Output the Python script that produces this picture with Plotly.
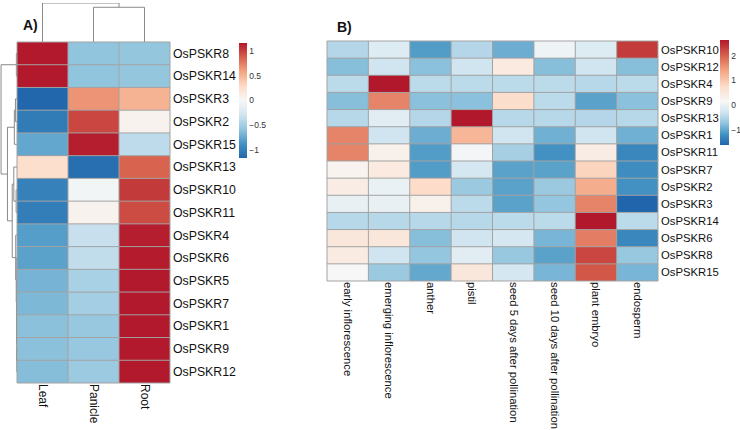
import plotly.graph_objects as go

# ---------------- Panel A data ----------------
genes_A = ["OsPSKR8", "OsPSKR14", "OsPSKR3", "OsPSKR2", "OsPSKR15", "OsPSKR13", "OsPSKR10",
           "OsPSKR11", "OsPSKR4", "OsPSKR6", "OsPSKR5", "OsPSKR7", "OsPSKR1", "OsPSKR9", "OsPSKR12"]
tissues_A = ["Leaf", "Panicle", "Root"]
leaf_A = [1.15, 1.15, -1.15, -1.02, -0.75, 0.25, -0.98, -1.0, -0.8, -0.78, -0.68, -0.65, -0.6, -0.6, -0.62]
panicle_A = [-0.58, -0.58, 0.65, 0.97, 1.13, -1.1, -0.04, 0.05, -0.33, -0.36, -0.47, -0.5, -0.55, -0.55, -0.53]
root_A = [-0.57, -0.57, 0.5, 0.05, -0.38, 0.85, 1.02, 0.95, 1.13, 1.14, 1.15, 1.15, 1.15, 1.15, 1.15]
ticks_A = [-1, -0.5, 0, 0.5, 1]

# dendrograms for panel A (left, right, merge height)
col_tree_A = ("Leaf", ("Panicle", "Root", 0.89), 1.0)
row_tree_A = (("OsPSKR8", "OsPSKR14", 0.6),
              ((("OsPSKR3", "OsPSKR2", 1.5), "OsPSKR15", 2.5),
               (("OsPSKR13", ("OsPSKR10", "OsPSKR11", 0.8), 3.0),
                ("OsPSKR4", ("OsPSKR6", ("OsPSKR5", ("OsPSKR7", ("OsPSKR1", ("OsPSKR9", "OsPSKR12", 0.2), 0.3), 0.4), 0.5), 0.7), 1.2),
                4.5),
               9.0),
              15.0)

# ---------------- Panel B data ----------------
genes_B = ["OsPSKR10", "OsPSKR12", "OsPSKR4", "OsPSKR9", "OsPSKR13", "OsPSKR1", "OsPSKR11",
           "OsPSKR7", "OsPSKR2", "OsPSKR3", "OsPSKR14", "OsPSKR6", "OsPSKR8", "OsPSKR15"]
tissues_B = ["early inflorescence", "emerging inflorescence", "anther", "pistil",
             "seed 5 days after pollination", "seed 10 days after pollination", "plant embryo", "endosperm"]
early_B = [-0.5, -0.8, -0.45, -0.8, -0.48, 1.7, 1.7, 0.25, 0.4, -0.02, -0.48, 0.5, 0.42, 0.15]
emerging_B = [-0.15, -0.3, 2.65, 1.7, -0.1, -0.3, 0.3, 0.45, 0.0, -0.02, -0.48, 0.5, -0.3, -0.68]
anther_B = [-1.1, -0.78, -0.45, -0.78, -0.5, -0.95, -1.1, -1.1, 0.75, 0.3, -0.48, -0.8, -0.72, -1.0]
pistil_B = [-0.5, -0.3, -0.45, -0.78, 2.65, 1.2, 0.1, -0.25, -0.68, -0.45, -0.48, -0.3, -0.1, 0.5]
seed5_B = [-0.95, 0.45, -0.45, 0.7, -0.48, -0.3, -0.6, -1.05, -1.05, -1.05, -0.45, -0.25, -0.7, -0.25]
seed10_B = [0.05, -0.8, -0.45, -0.45, -0.48, -0.93, -1.2, -1.05, -0.68, -0.72, -0.45, -0.88, -1.05, -0.88]
embryo_B = [-0.15, -0.3, -0.48, -1.05, -0.5, -0.3, 0.4, 0.85, 1.3, 1.7, 2.65, 1.75, 2.25, 2.1]
endosperm_B = [2.35, -0.8, -0.45, -0.78, -0.48, -0.93, -1.3, -1.25, -1.2, -1.63, -0.45, -1.3, -0.7, -0.88]
ticks_B = [-1, 0, 1, 2]

# ---------------- styling ----------------
W, H = 740, 430
FONT = "Arial, Liberation Sans, sans-serif"
RDBU = ["#2166AC", "#4393C3", "#92C5DE", "#D1E5F0", "#F7F7F7", "#FDDBC7", "#F4A582", "#D6604D", "#B2182B"]
GRID = "#a3a3a3"
DEND = "#8a8a8a"


def px_x(a, b):
    return [a / W, b / W]


def px_y(top, bottom):
    return [1 - bottom / H, 1 - top / H]


zmin_A, zmax_A = -1.1547, 1.1547
cs_A = [[i / 8, c] for i, c in enumerate(RDBU)]

zmin_B, zmax_B = -1.63, 2.65
white_B = 0.15
vals_B = [zmin_B + i * (white_B - zmin_B) / 4 for i in range(5)] + \
         [white_B + i * (zmax_B - white_B) / 4 for i in range(1, 5)]
cs_B = [[(v - zmin_B) / (zmax_B - zmin_B), c] for v, c in zip(vals_B, RDBU)]

z_A = [list(r) for r in zip(leaf_A, panicle_A, root_A)]
z_B = [list(r) for r in zip(early_B, emerging_B, anther_B, pistil_B, seed5_B, seed10_B, embryo_B, endosperm_B)]


def tree_segments(t, pos):
    if isinstance(t, str):
        return pos[t], 0.0, []
    pl, hl, sl = tree_segments(t[0], pos)
    pr, hr, sr = tree_segments(t[1], pos)
    h = t[2]
    seg = [(pl, hl), (pl, h), (pr, h), (pr, hr)]
    return (pl + pr) / 2, h, sl + sr + [seg]


def seg_xy(segs, swap=False):
    xs, ys = [], []
    for s in segs:
        for p, h in s:
            if swap:
                xs.append(h); ys.append(p)
            else:
                xs.append(p); ys.append(h)
        xs.append(None); ys.append(None)
    return xs, ys


fig = go.Figure()

# Panel A heatmap
fig.add_trace(go.Heatmap(
    z=z_A, x=tissues_A, y=genes_A, xaxis="x", yaxis="y",
    colorscale=cs_A, zmin=zmin_A, zmax=zmax_A, hoverinfo="skip",
    colorbar=dict(x=239 / W, xanchor="left", y=1 - 43 / H, yanchor="top",
                  lenmode="pixels", len=115, thicknessmode="pixels", thickness=8,
                  xpad=0, ypad=0, outlinewidth=0, tickvals=ticks_A, ticks="",
                  tickfont=dict(family=FONT, size=8.5, color="#333333"))))

# Panel B heatmap
fig.add_trace(go.Heatmap(
    z=z_B, x=tissues_B, y=genes_B, xaxis="x2", yaxis="y2",
    colorscale=cs_B, zmin=zmin_B, zmax=zmax_B, hoverinfo="skip",
    colorbar=dict(x=720 / W, xanchor="left", y=1 - 40 / H, yanchor="top",
                  lenmode="pixels", len=105, thicknessmode="pixels", thickness=9,
                  xpad=0, ypad=0, outlinewidth=0, tickvals=ticks_B, ticks="",
                  tickfont=dict(family=FONT, size=8.5, color="#333333"))))

# Column dendrogram (panel A)
_, _, csegs = tree_segments(col_tree_A, {t: i for i, t in enumerate(tissues_A)})
cx, cy = seg_xy(csegs)
fig.add_trace(go.Scatter(x=cx, y=cy, xaxis="x3", yaxis="y3", mode="lines",
                         line=dict(color=DEND, width=1), hoverinfo="skip", showlegend=False))

# Row dendrogram (panel A)
_, _, rsegs = tree_segments(row_tree_A, {g: i for i, g in enumerate(genes_A)})
rx, ry = seg_xy(rsegs, swap=True)
fig.add_trace(go.Scatter(x=rx, y=ry, xaxis="x4", yaxis="y4", mode="lines",
                         line=dict(color=DEND, width=1), hoverinfo="skip", showlegend=False))

shapes = []
for xr, yr, nc, nr in [("x", "y", len(tissues_A), len(genes_A)), ("x2", "y2", len(tissues_B), len(genes_B))]:
    for i in range(nc + 1):
        shapes.append(dict(type="line", xref=xr + " domain", yref=yr + " domain", x0=i / nc, x1=i / nc,
                           y0=0, y1=1, line=dict(color=GRID, width=1), layer="above"))
    for j in range(nr + 1):
        shapes.append(dict(type="line", xref=xr + " domain", yref=yr + " domain", x0=0, x1=1,
                           y0=j / nr, y1=j / nr, line=dict(color=GRID, width=1), layer="above"))

hidden = dict(visible=False, showgrid=False, zeroline=False, fixedrange=True)

fig.update_layout(
    width=W, height=H, margin=dict(l=0, r=0, t=0, b=0),
    paper_bgcolor="white", plot_bgcolor="white", showlegend=False,
    font=dict(family=FONT, color="#111111"),
    xaxis=dict(domain=px_x(17, 170), tickangle=90, ticks="", ticklen=0, showgrid=False, zeroline=False,
               tickfont=dict(size=12, color="#111111"), anchor="y"),
    yaxis=dict(domain=px_y(42, 383), side="right", autorange="reversed", ticks="", ticklen=0, showgrid=False,
               zeroline=False, tickfont=dict(size=12.3, color="#111111"), anchor="x", ticklabelstandoff=2),
    xaxis2=dict(domain=px_x(327, 658), tickangle=90, ticks="", ticklen=0, showgrid=False, zeroline=False,
                tickfont=dict(size=11.3, color="#111111"), anchor="y2"),
    yaxis2=dict(domain=px_y(41, 281), side="right", autorange="reversed", ticks="", ticklen=0, showgrid=False,
                zeroline=False, tickfont=dict(size=11.3, color="#111111"), anchor="x2", ticklabelstandoff=2),
    xaxis3=dict(domain=px_x(17, 170), range=[-0.5, len(tissues_A) - 0.5], anchor="y3", **hidden),
    yaxis3=dict(domain=px_y(3, 42), range=[0, 1.0], anchor="x3", **hidden),
    xaxis4=dict(domain=px_x(0, 17), range=[16, 0], anchor="y4", **hidden),
    yaxis4=dict(domain=px_y(42, 383), range=[len(genes_A) - 0.5, -0.5], anchor="x4", **hidden),
    shapes=shapes,
    annotations=[
        dict(text="<b>A)</b>", x=21 / W, y=1 - 25 / H, xref="paper", yref="paper", xanchor="left",
             yanchor="middle", showarrow=False, font=dict(family=FONT, size=14, color="#111111")),
        dict(text="<b>B)</b>", x=335 / W, y=1 - 27 / H, xref="paper", yref="paper", xanchor="left",
             yanchor="middle", showarrow=False, font=dict(family=FONT, size=14, color="#111111")),
    ],
)

fig.write_html("out.html", config={"displayModeBar": False},
               post_script="document.body.style.margin='0';")
